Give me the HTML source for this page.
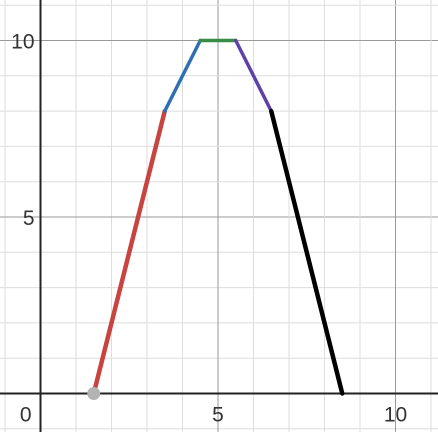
<!DOCTYPE html>
<html><head><meta charset="utf-8"><style>
html,body{margin:0;padding:0;background:#fff;overflow:hidden}
svg{display:block}
text{font-family:"Liberation Sans",sans-serif;font-size:21px;fill:#333}
</style></head><body>
<svg id="chart" width="438" height="432"></svg>
<script>
const xTicks=[0,5,10];
const yTicks=[5,10];
const segX=[[1.5,3.5],[3.5,4.5],[4.5,5.5],[5.5,6.5],[6.5,8.5]];
const segY=[[0,8],[8,10],[10,10],[10,8],[8,0]];
const segColors=["#c74440","#2d70b3","#388c46","#6042a6","#000000"];
const segNames=["segment-red","segment-blue","segment-green","segment-purple","segment-black"];
const startPoint=[1.5,0];
const NS="http://www.w3.org/2000/svg";
const svg=document.getElementById('chart');
const X=v=>40.5+v*35.5;
const Y=v=>393.5-v*35.3;
function mk(t,a){const e=document.createElementNS(NS,t);for(const k in a)e.setAttribute(k,a[k]);svg.appendChild(e);return e;}
for(let i=-2;i<=12;i++){
 const l=mk('line',{x1:X(i),x2:X(i),y1:0,y2:432,stroke:i%5===0?'#9a9a9a':'#dedede','stroke-width':1});
 
 
 const h=mk('line',{x1:0,x2:438,y1:Y(i),y2:Y(i),stroke:i%5===0?'#9a9a9a':'#dedede','stroke-width':1});
 
 
}
const xa=mk('line',{x1:0,x2:438,y1:Y(0),y2:Y(0),stroke:'#222','stroke-width':2});


const ya=mk('line',{x1:X(0),x2:X(0),y1:0,y2:432,stroke:'#222','stroke-width':2});


xTicks.forEach(v=>{
 const t=mk('text',{x:v===0?X(0)-9:X(v),y:Y(0)+28,'text-anchor':v===0?'end':'middle'});
 t.textContent=v;
 
 
});
yTicks.forEach(v=>{
 const t=mk('text',{x:X(0)-6,y:Y(v)+8,'text-anchor':'end'});
 t.textContent=v;
 
 
});
segX.forEach((s,i)=>{
 const l=mk('line',{x1:X(s[0]),y1:Y(segY[i][0]),x2:X(s[1]),y2:Y(segY[i][1]),stroke:segColors[i],'stroke-width':i===0||i===4?4.5:3.5,'stroke-linecap':'round'});
 
 
});
const c=mk('circle',{cx:X(startPoint[0]),cy:Y(startPoint[1]),r:6.5,fill:'#b3b3b3'});


</script>
</body></html>
